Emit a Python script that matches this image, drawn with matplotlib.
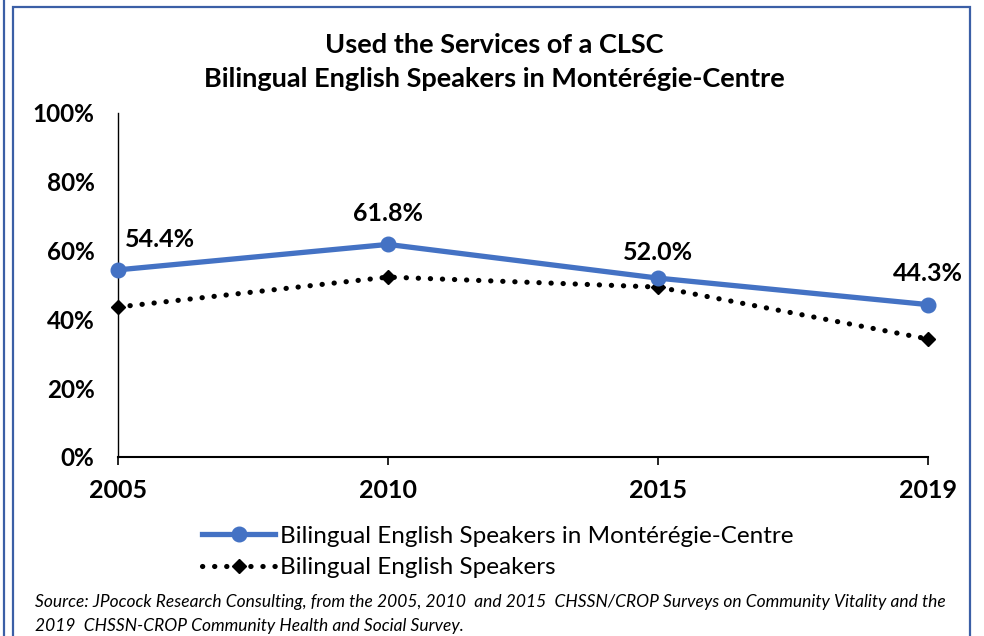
import matplotlib
matplotlib.use("Agg")
import matplotlib.pyplot as plt
from matplotlib.patches import Rectangle
from matplotlib.lines import Line2D

years = ["2005", "2010", "2015", "2019"]
monteregie = [54.4, 61.8, 52.0, 44.3]
bilingual = [43.6, 52.3, 49.4, 34.3]
yticks = [0, 20, 40, 60, 80, 100]

title_1 = "Used the Services of a CLSC"
title_2 = "Bilingual English Speakers in Montérégie-Centre"
label_a = "Bilingual English Speakers in Montérégie-Centre"
label_b = "Bilingual English Speakers"
source = ("Source: JPocock Research Consulting, from the 2005, 2010  and 2015  CHSSN/CROP Surveys on Community Vitality and the\n"
          "2019  CHSSN-CROP Community Health and Social Survey.")

plt.rcParams['font.family'] = ['Lato', 'DejaVu Sans']

W, H = 984, 636
fig = plt.figure(figsize=(W / 100, H / 100), dpi=100)
blue = "#4472C4"
frame = "#3B5FA6"

# frame lines
fig.add_artist(Rectangle((13 / W, -0.05), (970 - 13) / W, (H - 7) / H + 0.05,
                         transform=fig.transFigure, fill=False, ec=frame, lw=1.6))
fig.add_artist(Line2D([4 / W, 4 / W], [0, 1], transform=fig.transFigure, color=frame, lw=1.6))

ax = fig.add_axes([118 / W, (H - 457) / H, 810 / W, 344 / H])
x = list(range(len(years)))

dots = (0, (0.05, 2.3))
ax.plot(x, bilingual, color="black", lw=3.7, linestyle=dots,
        dash_capstyle="round", marker="D", markersize=7, clip_on=False, zorder=3)
ax.plot(x, monteregie, color=blue, lw=3.8, marker="o", markersize=10.5,
        clip_on=False, zorder=4, solid_capstyle="round")

# label offsets in pixels
offsets = [(42, 30), (0, 31), (0, 26), (0, 31)]
for i, v in enumerate(monteregie):
    dx, dy = offsets[i]
    ax.annotate(f"{v:.1f}%", (i, v), xytext=(dx * 0.72, dy * 0.72), textcoords="offset points",
                ha="center", va="center", fontsize=18, fontweight="bold")

ax.set_xlim(0, 3)
ax.set_ylim(0, 100)
ax.set_xticks(x)
ax.set_xticklabels(years, fontsize=18, fontweight="bold")
ax.set_yticks(yticks)
ax.set_yticklabels([f"{t}%" for t in yticks], fontsize=17.5, fontweight="bold")
ax.tick_params(axis="y", length=0, pad=17)
ax.tick_params(axis="x", length=6, width=1.2, direction="out", pad=10)
for s in ["top", "right"]:
    ax.spines[s].set_visible(False)
ax.spines["left"].set_linewidth(1)
ax.spines["bottom"].set_linewidth(1.5)

fig.text(494 / W, 1 - 45 / H, title_1, ha="center", va="center", fontsize=19.5, fontweight="bold")
fig.text(494 / W, 1 - 79 / H, title_2, ha="center", va="center", fontsize=19.5, fontweight="bold")

handles = [Line2D([], [], color=blue, lw=3.8, marker="o", markersize=10.5),
           Line2D([], [], color="black", lw=3.7, linestyle=dots,
                  dash_capstyle="round", marker="D", markersize=7)]
fig.legend(handles, [label_a, label_b], loc="center", bbox_to_anchor=(498 / W, 1 - 552 / H),
           frameon=False, fontsize=17.5, handlelength=3.0, handletextpad=0.2,
           labelspacing=0.45)

fig.text(35 / W, 1 - 614 / H, source, ha="left", va="center", fontsize=12.5,
         style="italic", linespacing=1.55)

fig.savefig("out.png", dpi=100)
